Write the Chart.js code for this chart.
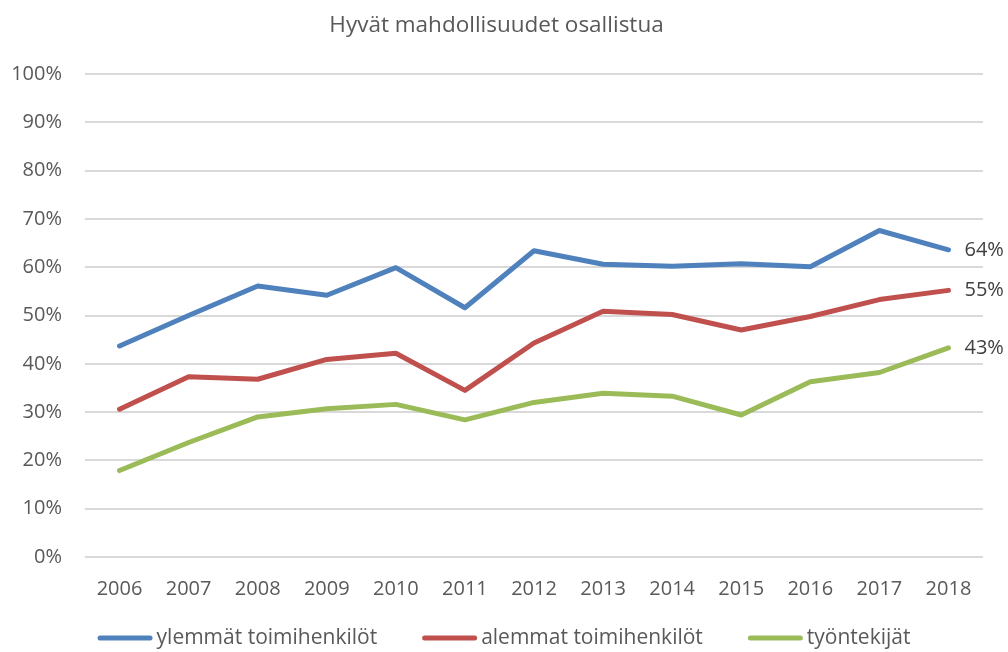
<!DOCTYPE html>
<html>
<head>
<meta charset="utf-8">
<script src="https://cdn.jsdelivr.net/npm/chart.js@4"></script>
<style>
  html, body { margin: 0; padding: 0; background: #ffffff; }
  #wrap { width: 1008px; height: 652px; }
</style>
</head>
<body>
<div id="wrap"><canvas id="c" width="1008" height="652"></canvas></div>
<script>
const titleText = "Hyvät mahdollisuudet osallistua";
const years = ["2006","2007","2008","2009","2010","2011","2012","2013","2014","2015","2016","2017","2018"];
const seriesNames = ["ylemmät toimihenkilöt", "alemmat toimihenkilöt", "työntekijät"];
const ylemmat = [43.7, 50.0, 56.1, 54.2, 59.9, 51.6, 63.4, 60.6, 60.2, 60.7, 60.1, 67.6, 63.6];
const alemmat = [30.6, 37.3, 36.8, 40.9, 42.2, 34.5, 44.3, 50.9, 50.2, 47.0, 49.8, 53.3, 55.2];
const tyontekijat = [17.9, 23.7, 29.0, 30.7, 31.6, 28.4, 32.0, 33.9, 33.3, 29.4, 36.3, 38.2, 43.3];
const endLabels = ["64%", "55%", "43%"];
const colors = ["#4F81BD", "#C0504D", "#9BBB59"];

const FONT = "'Open Sans', sans-serif";

const endLabelPlugin = {
  id: 'endLabels',
  afterDatasetsDraw(chart) {
    const ctx = chart.ctx;
    ctx.save();
    ctx.font = "20px " + FONT;
    ctx.fillStyle = "#404040";
    ctx.textAlign = "left";
    ctx.textBaseline = "middle";
    chart.data.datasets.forEach((ds, i) => {
      const meta = chart.getDatasetMeta(i);
      const pt = meta.data[meta.data.length - 1];
      ctx.fillText(endLabels[i], pt.x + 16, pt.y);
    });
    ctx.restore();
  }
};

// Legend drawn like the reference: long thick line sample, text right next to it
const customLegend = {
  id: 'customLegend',
  afterDraw(chart) {
    const ctx = chart.ctx;
    ctx.save();
    ctx.font = "21px " + FONT;
    const lineLen = 55, gapText = 4, gapItem = 45;
    const widths = chart.data.datasets.map(ds => ctx.measureText(ds.label).width);
    let total = 0;
    widths.forEach((w, i) => { total += lineLen + gapText + w + (i < widths.length - 1 ? gapItem : 0); });
    let x = (chart.width - total) / 2;
    const y = 638;
    chart.data.datasets.forEach((ds, i) => {
      ctx.strokeStyle = ds.borderColor;
      ctx.lineWidth = 5;
      ctx.lineCap = 'round';
      ctx.beginPath();
      ctx.moveTo(x + 2.5, y);
      ctx.lineTo(x + lineLen - 2.5, y);
      ctx.stroke();
      ctx.fillStyle = "#595959";
      ctx.textAlign = "left";
      ctx.textBaseline = "middle";
      ctx.fillText(ds.label, x + lineLen + gapText, y);
      x += lineLen + gapText + widths[i] + gapItem;
    });
    ctx.restore();
  }
};

const mk = (label, data, color) => ({
  label, data,
  borderColor: color,
  backgroundColor: color,
  borderWidth: 5,
  borderCapStyle: 'round',
  borderJoinStyle: 'round',
  pointRadius: 0,
  tension: 0,
  fill: false
});

new Chart(document.getElementById('c'), {
  type: 'line',
  data: {
    labels: years,
    datasets: [
      mk(seriesNames[0], ylemmat, colors[0]),
      mk(seriesNames[1], alemmat, colors[1]),
      mk(seriesNames[2], tyontekijat, colors[2])
    ]
  },
  options: {
    responsive: false,
    animation: false,
    devicePixelRatio: 1,
    layout: { padding: { left: 10, right: 25, top: 0, bottom: 31 } },
    plugins: {
      title: {
        display: true,
        text: titleText,
        color: "#595959",
        font: { family: FONT, size: 22.5, weight: 'normal' },
        padding: { top: 12, bottom: 35 }
      },
      legend: { display: false },
      tooltip: { enabled: false }
    },
    scales: {
      x: {
        offset: true,
        grid: { display: false, drawTicks: false },
        border: { display: false },
        ticks: { color: "#595959", font: { family: FONT, size: 20 }, padding: 20, maxRotation: 0 }
      },
      y: {
        min: 0, max: 100,
        grid: { color: "#D9D9D9", lineWidth: 2, drawTicks: false },
        border: { display: false },
        afterFit(scale) { scale.width = 75; },
        ticks: {
          stepSize: 10,
          color: "#595959",
          font: { family: FONT, size: 20 },
          padding: 23,
          callback: v => v + "%"
        }
      }
    }
  },
  plugins: [endLabelPlugin, customLegend]
});
</script>
</body>
</html>
